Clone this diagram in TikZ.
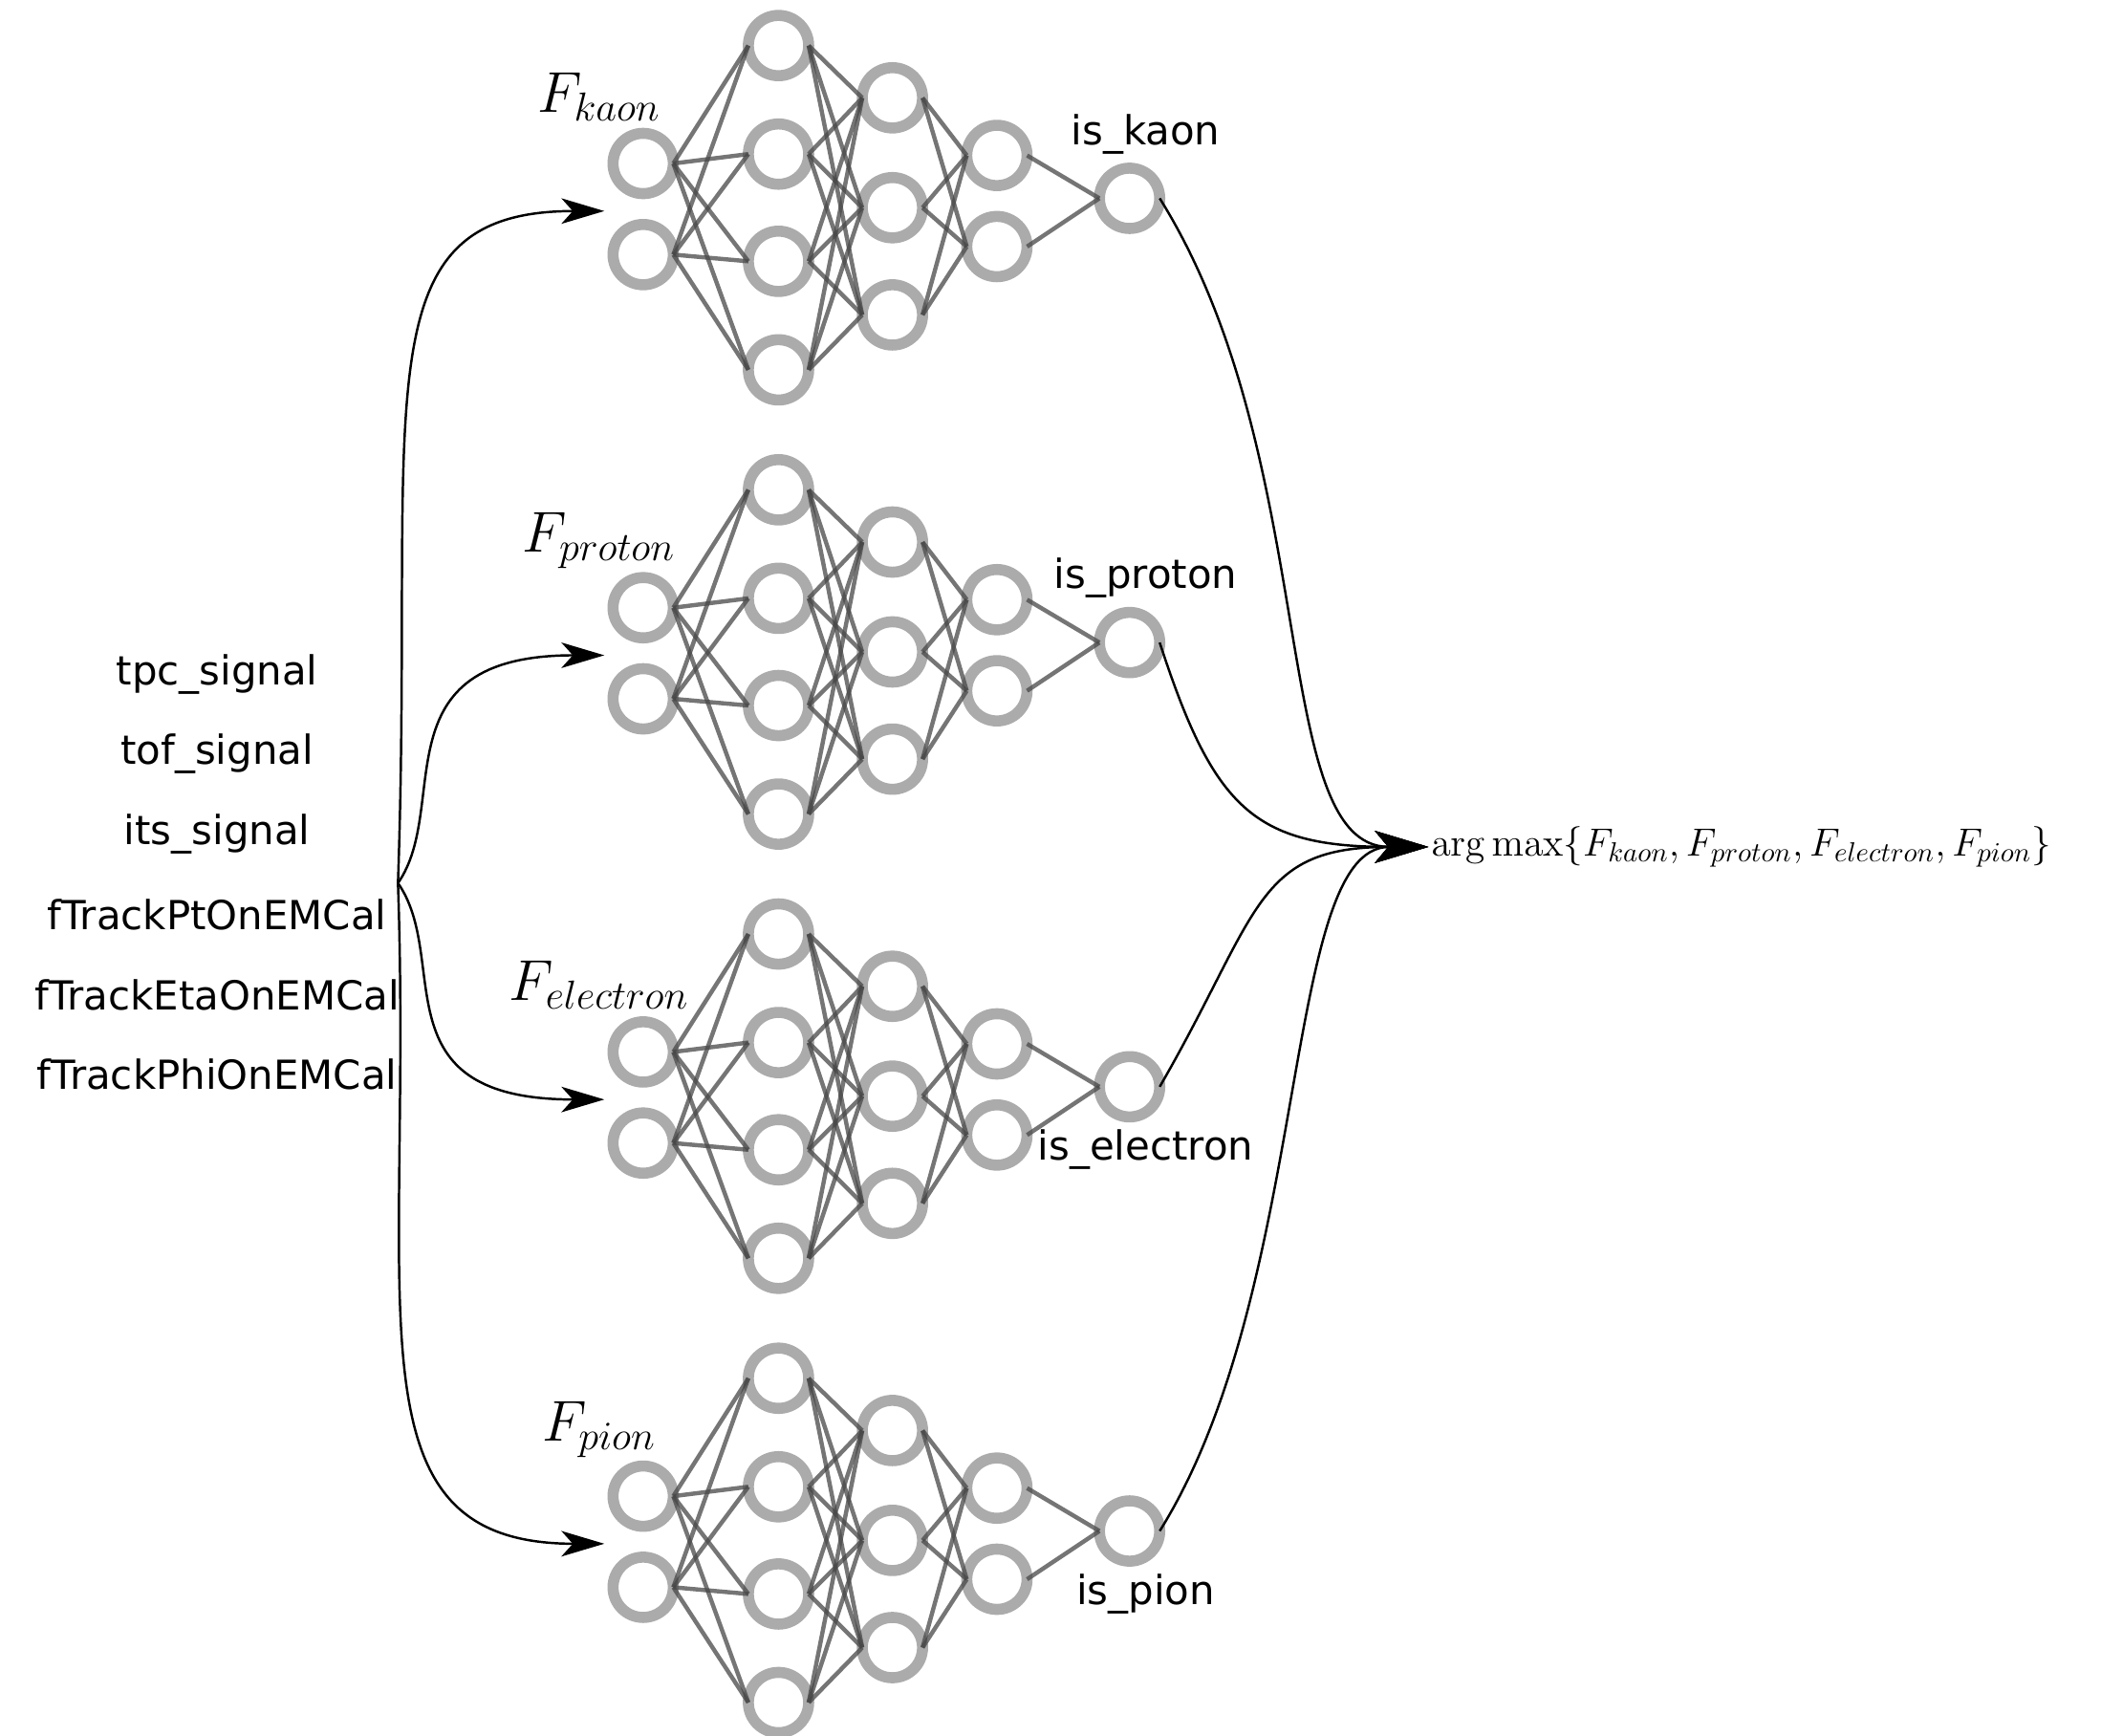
\RequirePackage{fix-cm}
\documentclass[tikz,border=0pt]{standalone}
\usepackage[no-math]{fontspec}
\setmainfont{DejaVu Sans}
\usetikzlibrary{arrows.meta}

\begin{document}
\begin{tikzpicture}[x=0.2mm, y=0.2mm]
  \tikzstyle{neuron}=[circle, draw=black!33, line width=4.7pt, minimum size=9mm, inner sep=0pt, outer sep=0pt]
  \tikzstyle{weight}=[draw=black!72, line width=1.8pt, opacity=0.75]
  \tikzstyle{feature}=[font=\fontsize{17}{20}\selectfont]
  \tikzstyle{netname}=[font=\fontsize{24.5}{29}\selectfont]
  \tikzstyle{flow}=[line width=1pt, -{Stealth[length=6.4mm, width=3.8mm, inset=1.7mm]}]
  \tikzstyle{merge}=[line width=1pt, -{Stealth[length=8mm, width=4.8mm, inset=2mm]}]
  \useasboundingbox (0,0) rectangle (1568,-1295);

  % input features
  \foreach \name [count=\i] in {tpc\_signal, tof\_signal, its\_signal, fTrackPtOnEMCal, fTrackEtaOnEMCal, fTrackPhiOnEMCal}
    \node[feature] (feat\i) at (162, -503-59.8*\i+59.8) {\name};
  \coordinate (split) at (297,-659);

  \node[anchor=west, inner sep=1pt, font=\fontsize{16.7}{20}\selectfont] (argmax) at (1066,-632)
    {$\arg\max\{F_{kaon}, F_{proton}, F_{electron}, F_{pion}\}$};

  % one network per particle
  \foreach \net/\off/\dy in {kaon/0/-48, proton/331.5/-48, electron/663/47, pion/994.5/47}{
    \foreach \y [count=\i] in {122,190} \node[neuron] (\net-a\i) at (480,-\y-\off) {};
    \foreach \y [count=\i] in {34,115,195,276} \node[neuron] (\net-b\i) at (581,-\y-\off) {};
    \foreach \y [count=\i] in {73,155,235} \node[neuron] (\net-c\i) at (666,-\y-\off) {};
    \foreach \y [count=\i] in {116,184} \node[neuron] (\net-d\i) at (744,-\y-\off) {};
    \node[neuron] (\net-out) at (843,-148-\off) {};
    \node[netname] (\net-name) at (447,-72-\off) {$F_{\net}$};
    \node[feature] (\net-is) at (855,-148-\off-\dy) {is\_\net};
    \coordinate (\net-in) at (451,-157.5-\off);
    \foreach \i in {1,2} \foreach \j in {1,...,4} \draw[weight] (\net-a\i.east) -- (\net-b\j.west);
    \foreach \i in {1,...,4} \foreach \j in {1,2,3} \draw[weight] (\net-b\i.east) -- (\net-c\j.west);
    \foreach \i in {1,2,3} \foreach \j in {1,2} \draw[weight] (\net-c\i.east) -- (\net-d\j.west);
    \foreach \i in {1,2} \draw[weight] (\net-d\i.east) -- (\net-out.west);
  }

  % features into every network
  \draw[flow] (split) .. controls +(88:360) and +(180:185) .. (kaon-in);
  \draw[flow] (split) .. controls +(55:70) and +(180:170) .. (proton-in);
  \draw[flow] (split) .. controls +(-55:70) and +(180:170) .. (electron-in);
  \draw[flow] (split) .. controls +(-88:320) and +(180:195) .. (pion-in);

  % outputs into the decision
  \draw[merge] (kaon-out.east) .. controls +(-58:230) and +(180:120) .. (argmax.west);
  \draw[merge] (proton-out.east) .. controls +(-72:130) and +(180:130) .. (argmax.west);
  \draw[merge] (electron-out.east) .. controls +(60:150) and +(180:130) .. (argmax.west);
  \draw[merge] (pion-out.east) .. controls +(58:215) and +(180:110) .. (argmax.west);
\end{tikzpicture}
\end{document}
